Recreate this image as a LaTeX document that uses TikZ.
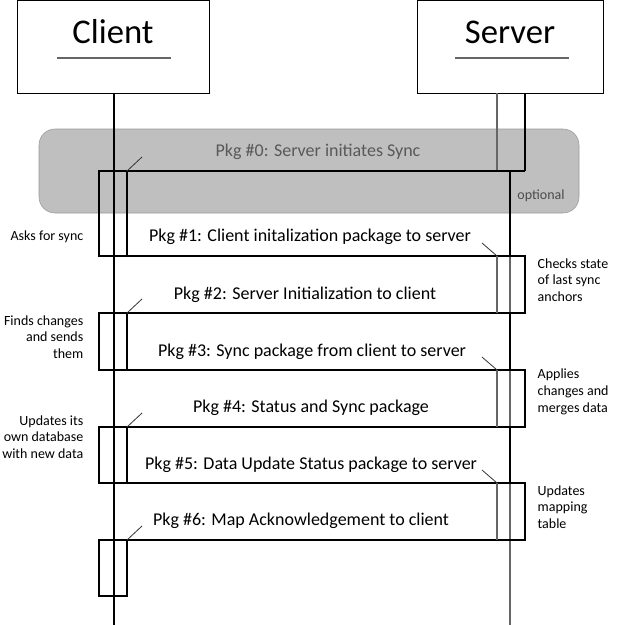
\documentclass[tikz,border=0pt]{standalone}
\usepackage{fontspec}
\setmainfont{Carlito}
\begin{document}
\begin{tikzpicture}[x=0.75pt,y=-0.75pt,
  ln/.style={draw=black,line width=0.8pt},
  gln/.style={draw=black!60,line width=0.8pt},
  msg/.style={font=\fontsize{13.5}{16}\selectfont,anchor=center},
  note/.style={font=\fontsize{10.5}{12.5}\selectfont,align=left},
  lnote/.style={font=\fontsize{10.5}{12.5}\selectfont,align=right,anchor=east},
  tick/.style={draw=black!80,line width=0.6pt}]
\useasboundingbox (0,0) rectangle (624,625);
% optional region
\draw[fill=black!25,draw=black!40,rounded corners=12pt] (39,129) rectangle (579,213);
% headers
\node[ln,draw,minimum width=192*0.75pt,minimum height=93*0.75pt,anchor=north west,inner sep=0] (client) at (17,0) {};
\node[ln,draw,minimum width=186*0.75pt,minimum height=93*0.75pt,anchor=north west,inner sep=0] (server) at (417,0) {};
\node[font=\fontsize{26}{30}\selectfont] (ct) at (113,32) {Client};
\node[font=\fontsize{26}{30}\selectfont] (st) at (510,32) {Server};
\draw[gln] (57,58) -- (171,58);
\draw[gln] (455,58) -- (569,58);
% lifelines
\draw[ln] (114,93) -- (114,625);
\draw[gln] (510,171) -- (510,625);
% pkg0 server activation
\draw[gln] (497,93) -- (497,171);
\draw[ln] (525,93) -- (525,171);
% odd boxes
\foreach \a/\b in {171/256,313/370,427/483}{
  \draw[ln] (99,\a) rectangle (510,\b);
  \draw[ln] (127,\a) -- (127,\b);
}
\draw[ln] (99,540) rectangle (127,596);
\draw[ln] (114,171) -- (525,171);
% even boxes
\foreach \a/\b in {256/313,370/427,483/540}{
  \draw[ln] (114,\a) rectangle (525,\b);
  \draw[gln] (497,\a) -- (497,\b);
}
% ticks
\foreach \y in {171,313,427,540}{\draw[tick] (127,\y) -- (142,\y-14);}
\foreach \y in {256,370,483}{\draw[tick] (497,\y) -- (482,\y-13);}
% messages
\node[msg,text=black!65] (m0) at (318,152) {Pkg \#0: Server initiates Sync};
\node[msg] (m1) at (310,237) {Pkg \#1: Client initalization package to server};
\node[msg] (m2) at (305,295) {Pkg \#2: Server Initialization to client};
\node[msg] (m3) at (312,352) {Pkg \#3: Sync package from client to server};
\node[msg] (m4) at (311,408) {Pkg \#4: Status and Sync package};
\node[msg] (m5) at (311,465) {Pkg \#5: Data Update Status package to server};
\node[msg] (m6) at (301,521) {Pkg \#6: Map Acknowledgement to client};
\node[font=\fontsize{10.5}{12}\selectfont,text=black!70] (opt) at (541,196) {optional};
% notes
\node[lnote] (n1) at (88,237) {Asks for sync};
\node[lnote] (n2) at (88,337) {Finds changes\\and sends\\them};
\node[lnote] (n3) at (88,437) {Updates its\\own database\\with new data};
\node[note,anchor=west] (n4) at (533,280) {Checks state\\of last sync\\anchors};
\node[note,anchor=west] (n5) at (533,392) {Applies\\changes and\\merges data};
\node[note,anchor=west] (n6) at (533,507) {Updates\\mapping\\table};
\end{tikzpicture}
\end{document}
